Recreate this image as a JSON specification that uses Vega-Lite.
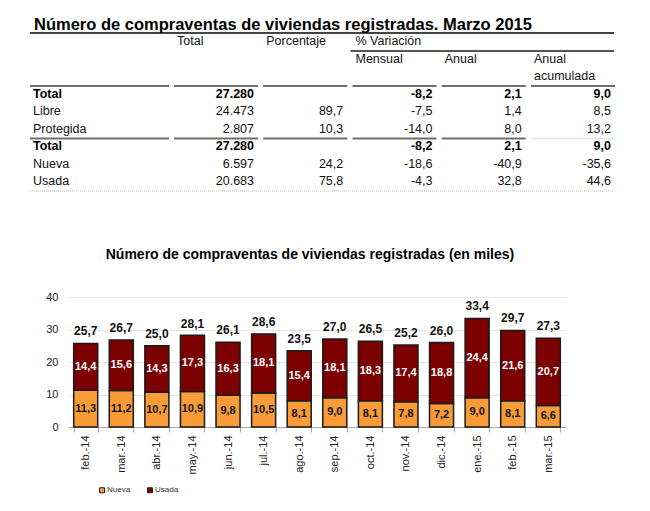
{
  "$schema": "https://vega.github.io/schema/vega-lite/v6.json",
  "padding": {"left": 29, "top": 16, "right": 5, "bottom": 5},
  "bounds": "flush",
  "spacing": 106,
  "config": {
    "font": "Liberation Sans",
    "locale": {"number": {"decimal": ",", "thousands": ".", "grouping": [3], "currency": ["", " €"], "minus": "-"}},
    "view": {"stroke": null}
  },
  "datasets": {
    "tabla": [
      {"n": 1, "Concepto": "Total", "Total": 27280, "Porcentaje": null, "Mensual": -8.2, "Anual": 2.1, "Anual acumulada": 9.0},
      {"n": 2, "Concepto": "Libre", "Total": 24473, "Porcentaje": 89.7, "Mensual": -7.5, "Anual": 1.4, "Anual acumulada": 8.5},
      {"n": 3, "Concepto": "Protegida", "Total": 2807, "Porcentaje": 10.3, "Mensual": -14.0, "Anual": 8.0, "Anual acumulada": 13.2},
      {"n": 4, "Concepto": "Total", "Total": 27280, "Porcentaje": null, "Mensual": -8.2, "Anual": 2.1, "Anual acumulada": 9.0},
      {"n": 5, "Concepto": "Nueva", "Total": 6597, "Porcentaje": 24.2, "Mensual": -18.6, "Anual": -40.9, "Anual acumulada": -35.6},
      {"n": 6, "Concepto": "Usada", "Total": 20683, "Porcentaje": 75.8, "Mensual": -4.3, "Anual": 32.8, "Anual acumulada": 44.6}
    ],
    "cabecera": [
      {"columna": "Total", "n": -2, "texto": "Total"},
      {"columna": "Porcentaje", "n": -2, "texto": "Porcentaje"},
      {"columna": "Mensual", "n": -2, "texto": "% Variación"},
      {"columna": "Mensual", "n": -1, "texto": "Mensual"},
      {"columna": "Anual", "n": -1, "texto": "Anual"},
      {"columna": "Anual acumulada", "n": -1, "texto": "Anual"},
      {"columna": "Anual acumulada", "n": 0, "texto": "acumulada"}
    ],
    "meses": [
      {"mes": "feb.-14", "Nueva": 11.3, "Usada": 14.4, "Total": 25.7},
      {"mes": "mar.-14", "Nueva": 11.2, "Usada": 15.6, "Total": 26.7},
      {"mes": "abr.-14", "Nueva": 10.7, "Usada": 14.3, "Total": 25.0},
      {"mes": "may.-14", "Nueva": 10.9, "Usada": 17.3, "Total": 28.1},
      {"mes": "jun.-14", "Nueva": 9.8, "Usada": 16.3, "Total": 26.1},
      {"mes": "jul.-14", "Nueva": 10.5, "Usada": 18.1, "Total": 28.6},
      {"mes": "ago.-14", "Nueva": 8.1, "Usada": 15.4, "Total": 23.5},
      {"mes": "sep.-14", "Nueva": 9.0, "Usada": 18.1, "Total": 27.0},
      {"mes": "oct.-14", "Nueva": 8.1, "Usada": 18.3, "Total": 26.5},
      {"mes": "nov.-14", "Nueva": 7.8, "Usada": 17.4, "Total": 25.2},
      {"mes": "dic.-14", "Nueva": 7.2, "Usada": 18.8, "Total": 26.0},
      {"mes": "ene.-15", "Nueva": 9.0, "Usada": 24.4, "Total": 33.4},
      {"mes": "feb.-15", "Nueva": 8.1, "Usada": 21.6, "Total": 29.7},
      {"mes": "mar.-15", "Nueva": 6.6, "Usada": 20.7, "Total": 27.3}
    ]
  },
  "vconcat": [
    {
      "width": 546,
      "height": 158,
      "title": {"text": "Número de compraventas de viviendas registradas. Marzo 2015", "anchor": "start", "frame": "group", "dx": -34, "fontSize": 16.5, "fontWeight": "bold", "color": "#000", "offset": -1},
      "encoding": {
        "x": {"type": "ordinal", "scale": {"type": "point", "padding": 0, "domain": ["Concepto", "Total", "Porcentaje", "Mensual", "Anual", "Anual acumulada"], "range": [96.75, 543]}, "axis": null},
        "y": {"type": "quantitative", "scale": {"domain": [-2, 6], "range": [8, 148], "nice": false, "zero": false}, "axis": null}
      },
      "layer": [
        {
          "data": {"name": "cabecera"},
          "mark": {"type": "text", "align": "left", "baseline": "middle", "dx": -77, "fontSize": 12.5, "color": "#111"},
          "encoding": {
            "x": {"field": "columna", "type": "ordinal"},
            "y": {"field": "n", "type": "quantitative"},
            "text": {"field": "texto"}
          }
        },
        {
          "data": {"name": "tabla"},
          "transform": [{"filter": "datum.Concepto !== 'Total'"}],
          "mark": {"type": "text", "align": "left", "baseline": "middle", "dx": -131.75, "fontSize": 12.5, "color": "#111"},
          "encoding": {
            "x": {"datum": "Concepto", "type": "ordinal"},
            "y": {"field": "n", "type": "quantitative"},
            "text": {"field": "Concepto"}
          }
        },
        {
          "data": {"name": "tabla"},
          "transform": [{"filter": "datum.Concepto === 'Total'"}],
          "mark": {"type": "text", "align": "left", "baseline": "middle", "dx": -131.75, "fontSize": 12.5, "fontWeight": "bold", "color": "#000"},
          "encoding": {
            "x": {"datum": "Concepto", "type": "ordinal"},
            "y": {"field": "n", "type": "quantitative"},
            "text": {"field": "Concepto"}
          }
        },
        {
          "data": {"name": "tabla"},
          "transform": [
            {"fold": ["Total", "Porcentaje", "Mensual", "Anual", "Anual acumulada"], "as": ["columna", "valor"]},
            {"filter": "isValid(datum.valor) && datum.Concepto !== 'Total'"}
          ],
          "mark": {"type": "text", "align": "right", "baseline": "middle", "fontSize": 12.5, "color": "#111"},
          "encoding": {
            "x": {"field": "columna", "type": "ordinal"},
            "y": {"field": "n", "type": "quantitative"},
            "text": {"condition": {"test": "datum.columna === 'Total'", "field": "valor", "type": "quantitative", "format": ",.0f"}, "field": "valor", "type": "quantitative", "format": ".1f"}
          }
        },
        {
          "data": {"name": "tabla"},
          "transform": [
            {"fold": ["Total", "Porcentaje", "Mensual", "Anual", "Anual acumulada"], "as": ["columna", "valor"]},
            {"filter": "isValid(datum.valor) && datum.Concepto === 'Total'"}
          ],
          "mark": {"type": "text", "align": "right", "baseline": "middle", "fontSize": 12.5, "fontWeight": "bold", "color": "#000"},
          "encoding": {
            "x": {"field": "columna", "type": "ordinal"},
            "y": {"field": "n", "type": "quantitative"},
            "text": {"condition": {"test": "datum.columna === 'Total'", "field": "valor", "type": "quantitative", "format": ",.0f"}, "field": "valor", "type": "quantitative", "format": ".1f"}
          }
        },
        {
          "data": {"name": "tabla"},
          "transform": [
            {"fold": ["Total", "Porcentaje", "Mensual", "Anual", "Anual acumulada"], "as": ["columna", "valor"]},
            {"filter": "datum.Concepto === 'Total' && !(datum.n === 4 && datum.columna === 'Anual acumulada')"}
          ],
          "mark": {"type": "tick", "orient": "horizontal", "size": 84, "thickness": 2, "xOffset": -38, "yOffset": -7.5, "color": "#6e6e6e", "opacity": 1},
          "encoding": {
            "x": {"field": "columna", "type": "ordinal"},
            "y": {"field": "n", "type": "quantitative"}
          }
        },
        {
          "data": {"name": "tabla"},
          "transform": [
            {"fold": ["Anual acumulada"], "as": ["columna", "valor"]},
            {"filter": "datum.n === 4"}
          ],
          "mark": {"type": "tick", "orient": "horizontal", "size": 84, "thickness": 1.5, "xOffset": -38, "yOffset": -7.5, "color": "#e2e2e2", "opacity": 1},
          "encoding": {
            "x": {"field": "columna", "type": "ordinal"},
            "y": {"field": "n", "type": "quantitative"}
          }
        },
        {
          "data": {"name": "tabla"},
          "transform": [{"filter": "datum.Concepto === 'Total'"}],
          "mark": {"type": "tick", "orient": "horizontal", "size": 139, "thickness": 2, "xOffset": -65.25, "yOffset": -7.5, "color": "#6e6e6e", "opacity": 1},
          "encoding": {
            "x": {"datum": "Concepto", "type": "ordinal"},
            "y": {"field": "n", "type": "quantitative"}
          }
        },
        {
          "data": {"values": [{}]},
          "mark": {"type": "rule", "xOffset": -134.75, "x2Offset": 3, "yOffset": -8, "strokeWidth": 1.8, "color": "#444"},
          "encoding": {
            "x": {"datum": "Concepto", "type": "ordinal"},
            "x2": {"datum": "Anual acumulada"},
            "y": {"datum": -2, "type": "quantitative"}
          }
        },
        {
          "data": {"values": [{}]},
          "mark": {"type": "rule", "xOffset": -82, "x2Offset": 3, "yOffset": 10, "strokeWidth": 1.8, "color": "#555"},
          "encoding": {
            "x": {"datum": "Mensual", "type": "ordinal"},
            "x2": {"datum": "Anual acumulada"},
            "y": {"datum": -2, "type": "quantitative"}
          }
        },
        {
          "data": {"values": [{}]},
          "mark": {"type": "rule", "xOffset": -134.75, "x2Offset": 3, "yOffset": 10, "strokeWidth": 1, "strokeDash": [1, 1], "color": "#bbbbbb"},
          "encoding": {
            "x": {"datum": "Concepto", "type": "ordinal"},
            "x2": {"datum": "Anual acumulada"},
            "y": {"datum": 6, "type": "quantitative"}
          }
        }
      ]
    },
    {
      "width": 498,
      "height": 130,
      "title": {"text": "Número de compraventas de viviendas registradas (en miles)", "fontSize": 14, "fontWeight": "bold", "anchor": "middle", "dx": -7, "offset": 29, "color": "#000"},
      "data": {"name": "meses"},
      "encoding": {
        "x": {
          "field": "mes", "type": "ordinal", "sort": null,
          "scale": {"paddingInner": 0.325, "paddingOuter": 0.16},
          "axis": {"title": null, "labelAngle": -90, "labelFontSize": 11, "labelColor": "#222", "tickBand": "extent", "tickColor": "#aaaaaa", "tickSize": 5, "domainColor": "#aaaaaa", "labelPadding": 3, "grid": false}
        }
      },
      "layer": [
        {
          "transform": [{"fold": ["Nueva", "Usada"], "as": ["tipo", "valor"]}],
          "mark": {"type": "bar", "stroke": "#1a1a1a", "strokeWidth": 1.5},
          "encoding": {
            "y": {
              "field": "valor", "type": "quantitative", "stack": "zero",
              "scale": {"domain": [0, 40]},
              "axis": {"title": null, "values": [0, 10, 20, 30, 40], "domain": false, "ticks": false, "labelPadding": 10, "gridColor": "#e6e6e6", "labelFontSize": 11, "labelColor": "#222", "labelOverlap": false}
            },
            "color": {
              "field": "tipo", "type": "nominal",
              "scale": {"domain": ["Nueva", "Usada"], "range": ["#F99B36", "#7D0000"]},
              "legend": {"title": null, "orient": "none", "legendX": 30, "legendY": 453, "direction": "horizontal", "symbolType": "square", "symbolSize": 25, "symbolStrokeColor": "#222", "symbolStrokeWidth": 1, "labelFontSize": 8, "labelColor": "#333", "columnPadding": 14, "labelOffset": 1}
            },
            "order": {"field": "tipo"}
          }
        },
        {
          "transform": [
            {"fold": ["Nueva", "Usada"], "as": ["tipo", "valor"]},
            {"stack": "valor", "groupby": ["mes"], "sort": [{"field": "tipo", "order": "ascending"}], "as": ["v0", "v1"]},
            {"calculate": "(datum.v0 + datum.v1) / 2", "as": "centro"}
          ],
          "mark": {"type": "text", "fontSize": 11, "fontWeight": "bold", "baseline": "middle"},
          "encoding": {
            "y": {
              "field": "centro", "type": "quantitative",
              "scale": {"domain": [0, 40]},
              "axis": {"title": null, "values": [0, 10, 20, 30, 40], "domain": false, "ticks": false, "labelPadding": 10, "gridColor": "#e6e6e6", "labelFontSize": 11, "labelColor": "#222", "labelOverlap": false}
            },
            "text": {"field": "valor", "type": "quantitative", "format": ".1f"},
            "color": {"condition": {"test": "datum.tipo === 'Usada'", "value": "#ffffff"}, "value": "#111111"}
          }
        },
        {
          "mark": {"type": "text", "fontSize": 12, "fontWeight": "bold", "baseline": "bottom", "dy": -5, "color": "#111"},
          "encoding": {
            "y": {
              "field": "Total", "type": "quantitative",
              "scale": {"domain": [0, 40]},
              "axis": {"title": null, "values": [0, 10, 20, 30, 40], "domain": false, "ticks": false, "labelPadding": 10, "gridColor": "#e6e6e6", "labelFontSize": 11, "labelColor": "#222", "labelOverlap": false}
            },
            "text": {"field": "Total", "type": "quantitative", "format": ".1f"}
          }
        }
      ]
    }
  ]
}
